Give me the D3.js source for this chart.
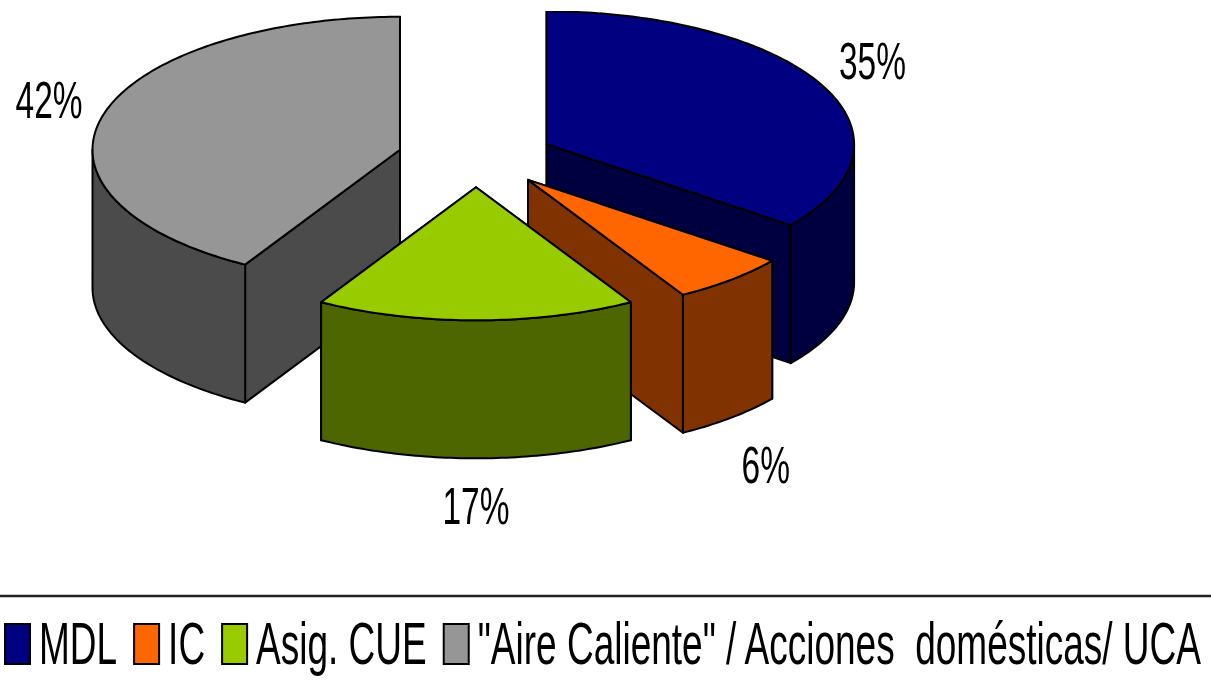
<!DOCTYPE html>
<html>
<head>
<meta charset="utf-8">
<script src="https://cdn.jsdelivr.net/npm/d3@7"></script>
<style>
html, body { margin: 0; padding: 0; background: #fff; overflow: hidden; }
text { font-family: "Liberation Sans", Arial, sans-serif; fill: #000; white-space: pre; }
</style>
</head>
<body>
<script>
// values (labels show them rounded)
var categories = ["MDL", "IC", "Asig. CUE", "\"Aire Caliente\" / Acciones  domésticas/ UCA"]
var shares = [35.4, 6.2, 16.8, 41.6]
var topColors = ["#000080", "#ff6600", "#99cc00", "#969696"]

var width = 1211, height = 687

var cx = 476, cy = 157.5   // middle of the pie before slices are pulled apart
var rx = 307.5, ry = 133   // top ellipse
var depth = 138
var pullX = 0.256, pullY = 0.224

var svg = d3.select("body")
.append("svg")
.attr("width", width)
.attr("height", height)
.style("display", "block")

// the reference is a soft upscaled bitmap
svg.append("defs").append("filter")
	.attr("id", "soft")
	.attr("x", 0).attr("y", 0).attr("width", 1).attr("height", 1)
	.append("feGaussianBlur")
	.attr("stdDeviation", 0.45)

var root = svg.append("g").attr("filter", "url(#soft)")

var xScale = d3.scaleLinear().domain([-1, 1]).range([cx - rx, cx + rx])
var yScale = d3.scaleLinear().domain([-1, 1]).range([cy - ry, cy + ry])

var slices = d3.pie().sort(null).value(function(d) { return d })(shares)

var line = d3.line()

function darker(c) {
	var col = d3.rgb(c)
	return d3.rgb(col.r * 0.5, col.g * 0.5, col.b * 0.5).formatHex()
}

function faceAttrs(sel, fill) {
	return sel.attr("fill", fill)
		.attr("stroke", "#000")
		.attr("stroke-width", 2)
		.attr("stroke-linejoin", "round")
}

function apex(s) {
	var mid = (s.startAngle + s.endAngle) / 2
	return [xScale(pullX * Math.sin(mid)), yScale(-pullY * Math.cos(mid))]
}

function rimPoint(s, a) {
	var p = apex(s)
	return [p[0] + rx * Math.sin(a), p[1] - ry * Math.cos(a)]
}

function rimPoints(s, a0, a1) {
	var n = Math.max(2, Math.ceil((a1 - a0) * 60))
	return d3.range(n + 1).map(function(i) { return rimPoint(s, a0 + (a1 - a0) * i / n) })
}

function down(p) { return [p[0], p[1] + depth] }

// back slices first, as they overlap
var order = [3, 0, 1, 2]

order.forEach(function(i) {
	var s = slices[i]
	var g = root.append("g")
	var top = topColors[i]
	var side = darker(top)
	var p = apex(s)

	// flat cut faces
	;[s.startAngle, s.endAngle].forEach(function(a) {
		var r = rimPoint(s, a)
		faceAttrs(g.append("path").attr("d", line([p, r, down(r), down(p)]) + "Z"), side)
	})

	// curved wall, only the front half of the ellipse shows
	var a0 = Math.max(s.startAngle, Math.PI / 2)
	var a1 = Math.min(s.endAngle, Math.PI * 1.5)
	if (a1 > a0) {
		var rim = rimPoints(s, a0, a1)
		faceAttrs(g.append("path").attr("d", line(rim.concat(rim.map(down).reverse())) + "Z"), side)
	}

	// top
	var rimTop = rimPoints(s, s.startAngle, s.endAngle)
	faceAttrs(g.append("path").attr("d", line([p].concat(rimTop)) + "Z"), top)
})

// percent labels
var labelStretch = 1.55
slices.forEach(function(s) {
	var mid = (s.startAngle + s.endAngle) / 2
	var r = rimPoint(s, mid)
	var front = Math.cos(mid) < 0
	var lx = r[0] + (front ? 52 : 56) * Math.sin(mid)
	var ly = front ? r[1] + depth + 47 : r[1] - 50 * Math.cos(mid) - 3
	root.append("text")
		.attr("transform", "translate(" + lx + "," + ly + ") scale(1," + labelStretch + ")")
		.attr("text-anchor", "middle")
		.attr("dy", "0.36em")
		.attr("font-size", 33.5)
		.text(d3.format(".0%")(s.value / 100))
})

// legend rule
root.append("line")
	.attr("x1", -5).attr("x2", width + 5)
	.attr("y1", 596).attr("y2", 596)
	.attr("stroke", "#222")
	.attr("stroke-width", 2.5)

// legend, laid out one entry after the other
var legendX = 5, legendY = 624, swatchW = 25, swatchH = 40
var legendStretch = 1.62, legendFont = 37
categories.forEach(function(name, i) {
	root.append("rect")
		.attr("x", legendX).attr("y", legendY)
		.attr("width", swatchW).attr("height", swatchH)
		.attr("fill", topColors[i])
		.attr("stroke", "#000")
		.attr("stroke-width", 2)
	var t = root.append("text")
		.attr("transform", "translate(" + (legendX + swatchW + 9) + ",664) scale(1," + legendStretch + ")")
		.attr("font-size", legendFont)
		.text(name)
	legendX += swatchW + 9 + t.node().getComputedTextLength() + 17
})
</script>
</body>
</html>
